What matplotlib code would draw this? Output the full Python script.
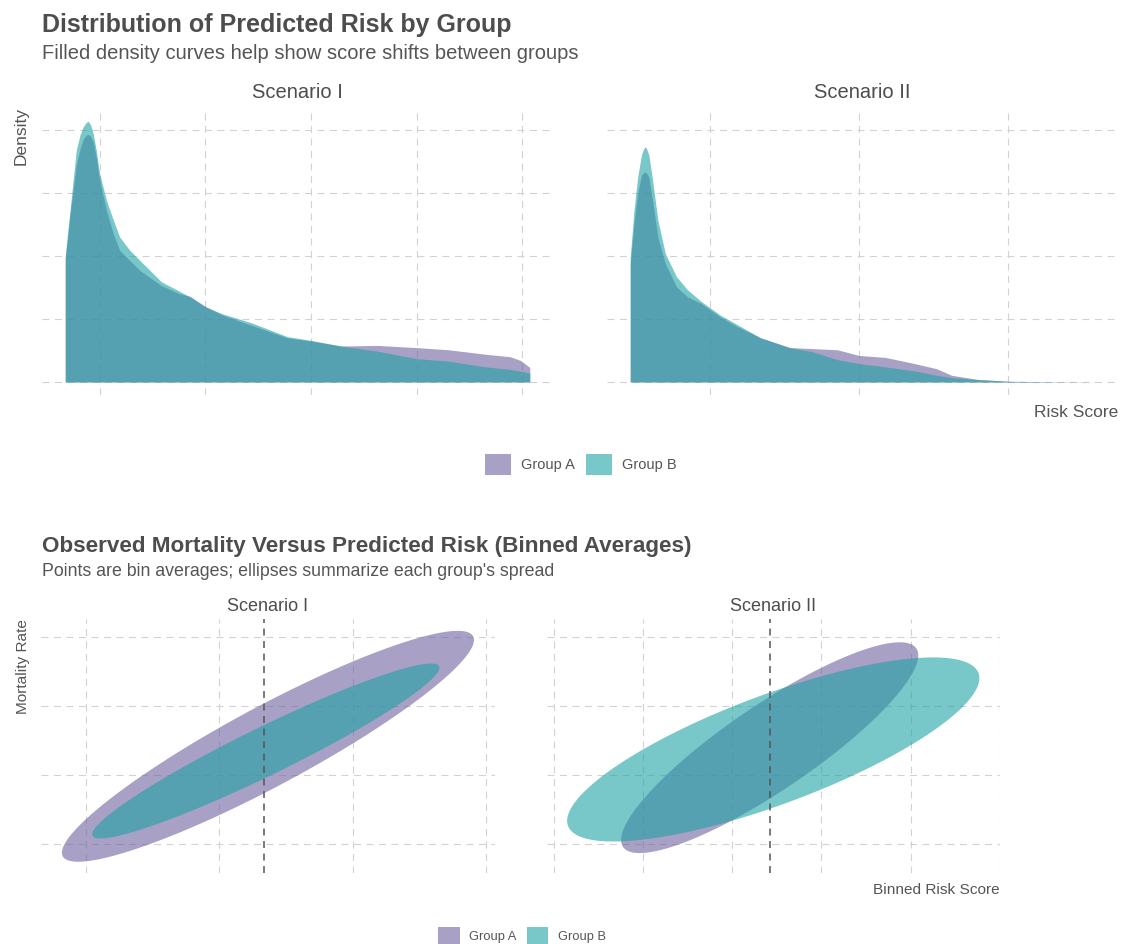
import numpy as np
import matplotlib
matplotlib.use("Agg")
import matplotlib.pyplot as plt
from matplotlib.patches import Patch

plt.rcParams['font.family'] = ['Liberation Sans', 'DejaVu Sans']
plt.rcParams['lines.scale_dashes'] = False

# data: density curves (top chart)
groups = ["Group A", "Group B"]
scenarios = ["Scenario I", "Scenario II"]

s1_x = [0.035, 0.044, 0.056, 0.063, 0.069, 0.074, 0.078, 0.083, 0.088, 0.094,
        0.100, 0.113, 0.126, 0.138, 0.157, 0.176, 0.217, 0.251, 0.271, 0.300,
        0.333, 0.387, 0.455, 0.500, 0.557, 0.625, 0.700, 0.761, 0.830, 0.877,
        0.897, 0.914]
s1_a = [1.95, 2.65, 3.45, 3.70, 3.85, 3.91, 3.93, 3.90, 3.81, 3.55,
        3.20, 2.72, 2.35, 2.09, 1.93, 1.77, 1.53, 1.40, 1.36, 1.20,
        1.06, 0.90, 0.70, 0.65, 0.57, 0.58, 0.545, 0.51, 0.44, 0.40,
        0.34, 0.23]
s1_b = [2.00, 2.72, 3.68, 3.92, 4.05, 4.11, 4.14, 4.08, 3.94, 3.66,
        3.31, 2.88, 2.57, 2.30, 2.09, 1.93, 1.59, 1.44, 1.35, 1.19,
        1.08, 0.94, 0.72, 0.66, 0.57, 0.49, 0.37, 0.33, 0.24, 0.20,
        0.17, 0.14]

s2_x = [0.093, 0.098, 0.103, 0.108, 0.111, 0.113, 0.115, 0.118, 0.123, 0.130,
        0.140, 0.155, 0.170, 0.189, 0.214, 0.238, 0.268, 0.307, 0.337, 0.371,
        0.400, 0.435, 0.475, 0.504, 0.524, 0.558, 0.602, 0.660, 0.716]
s2_a = [1.88, 2.51, 2.99, 3.28, 3.32, 3.33, 3.31, 3.25, 2.88, 2.30,
        1.88, 1.51, 1.35, 1.24, 1.03, 0.87, 0.70, 0.545, 0.53, 0.51,
        0.42, 0.39, 0.29, 0.21, 0.106, 0.042, 0.01, 0.004, 0.001]
s2_b = [1.98, 2.72, 3.25, 3.60, 3.70, 3.73, 3.70, 3.60, 3.20, 2.57,
        2.04, 1.67, 1.46, 1.27, 1.06, 0.90, 0.70, 0.545, 0.48, 0.355,
        0.29, 0.24, 0.175, 0.106, 0.07, 0.037, 0.01, 0.003, 0.0]

dens_grid_x = [[0.1, 0.3, 0.5, 0.7, 0.9], [0.2, 0.4, 0.6]]
dens_grid_y = [0, 1, 2, 3, 4]

# data: ellipse summaries (bottom chart): centre, half-extent in x / y, correlation
ell_cx = {"Scenario I": [0.2366, 0.2350], "Scenario II": [0.3420, 0.3460]}
ell_cy = {"Scenario I": [0.1210, 0.1176], "Scenario II": [0.1200, 0.1187]}
ell_hx = {"Scenario I": [0.1543, 0.1300], "Scenario II": [0.1665, 0.2310]}
ell_hy = {"Scenario I": [0.0838, 0.0635], "Scenario II": [0.0765, 0.0668]}
ell_rho = {"Scenario I": [0.921, 0.952], "Scenario II": [0.875, 0.775]}
ref_risk = [0.234, 0.342]

bin_grid_x = [[0.1, 0.2, 0.3, 0.4], [0.1, 0.2, 0.3, 0.4, 0.5, 0.6]]
bin_grid_y = [0.05, 0.10, 0.15, 0.20]

# colours
fills = ["#70619F", "#1EA3A5"]
alpha = 0.6
txt_dark = "#4D4D4D"
txt_mid = "#555555"
grid_col = "#D2D2D2"

W, H = 1123, 944
fig = plt.figure(figsize=(W / 100, H / 100), dpi=100)


def px_axes(left, top, right, bottom):
    return fig.add_axes([left / W, 1 - bottom / H, (right - left) / W, (bottom - top) / H])


def style(ax, gx, gy):
    for s in ax.spines.values():
        s.set_visible(False)
    ax.set_xticks(gx)
    ax.set_yticks(gy)
    ax.tick_params(length=0, labelbottom=False, labelleft=False)
    ax.grid(True, color=grid_col, lw=0.8, linestyle=(0, (5, 4)))
    ax.set_axisbelow(True)


def pad(lo, hi, f=0.05):
    d = (hi - lo) * f
    return lo - d, hi + d


# ---- top chart: densities
dens = [(s1_x, s1_a, s1_b), (s2_x, s2_a, s2_b)]
ytop = max(max(s1_a), max(s1_b), max(s2_a), max(s2_b))
top_boxes = [(42, 108, 553, 395), (607, 108, 1118, 395)]
for i, (xs, ya, yb) in enumerate(dens):
    ax = px_axes(*top_boxes[i])
    ax.fill_between(xs, 0, ya, color=fills[0], alpha=alpha, lw=0)
    ax.fill_between(xs, 0, yb, color=fills[1], alpha=alpha, lw=0)
    ax.set_xlim(*pad(min(xs), max(xs)))
    ax.set_ylim(*pad(0, ytop))
    style(ax, dens_grid_x[i], dens_grid_y)
    cx = (top_boxes[i][0] + top_boxes[i][2]) / 2
    fig.text(cx / W, 1 - 97.5 / H, scenarios[i], ha='center', va='baseline',
             fontsize=14.5, color=txt_dark)

fig.text(42 / W, 1 - 32 / H, "Distribution of Predicted Risk by Group", fontsize=18,
         fontweight='bold', color=txt_dark, va='baseline')
fig.text(42 / W, 1 - 59 / H, "Filled density curves help show score shifts between groups",
         fontsize=14.5, color=txt_mid, va='baseline')
fig.text(21 / W, 1 - 107 / H, "Density", rotation=90, ha='center', va='top',
         fontsize=12.5, color=txt_mid)
fig.text(1118 / W, 1 - 417 / H, "Risk Score", ha='right', va='baseline',
         fontsize=12.5, color=txt_mid)

handles = [Patch(facecolor=c, alpha=alpha, edgecolor='none') for c in fills]
fig.legend(handles, groups, loc='center', bbox_to_anchor=(580.8 / W, 1 - 464.3 / H),
           ncol=2, frameon=False, fontsize=10.5, handlelength=1.8, handleheight=1.8,
           handletextpad=0.7, columnspacing=0.7, labelcolor=txt_mid)

# ---- bottom chart: ellipses
t = np.linspace(0, 2 * np.pi, 241)
bot_boxes = [(41.3, 619.3, 494.6, 873.3), (546.5, 619.3, 1000, 873.3)]
all_ylo = min(min(np.subtract(ell_cy[s], ell_hy[s])) for s in scenarios)
all_yhi = max(max(np.add(ell_cy[s], ell_hy[s])) for s in scenarios)
for i, s in enumerate(scenarios):
    ax = px_axes(*bot_boxes[i])
    for g in range(2):
        cx, cy = ell_cx[s][g], ell_cy[s][g]
        hx, hy, r = ell_hx[s][g], ell_hy[s][g], ell_rho[s][g]
        ex = cx + hx * np.cos(t)
        ey = cy + hy * (r * np.cos(t) + np.sqrt(1 - r ** 2) * np.sin(t))
        ax.fill(ex, ey, color=fills[g], alpha=alpha, lw=0)
    ax.axvline(ref_risk[i], color="#555555", lw=1.1, linestyle=(0, (5, 4)))
    xlo = min(np.subtract(ell_cx[s], ell_hx[s]))
    xhi = max(np.add(ell_cx[s], ell_hx[s]))
    ax.set_xlim(*pad(xlo, xhi))
    ax.set_ylim(*pad(all_ylo, all_yhi))
    style(ax, bin_grid_x[i], bin_grid_y)
    bx = (bot_boxes[i][0] + bot_boxes[i][2]) / 2
    fig.text(bx / W, 1 - 610.7 / H, s, ha='center', va='baseline',
             fontsize=13, color=txt_dark)

fig.text(42 / W, 1 - 552 / H, "Observed Mortality Versus Predicted Risk (Binned Averages)",
         fontsize=16.2, fontweight='bold', color=txt_dark, va='baseline')
fig.text(42 / W, 1 - 576 / H, "Points are bin averages; ellipses summarize each group's spread",
         fontsize=12.8, color=txt_mid, va='baseline')
fig.text(23 / W, 1 - 619 / H, "Mortality Rate", rotation=90, ha='center', va='top',
         fontsize=11.1, color=txt_mid)
fig.text(1000 / W, 1 - 894 / H, "Binned Risk Score", ha='right', va='baseline',
         fontsize=11.1, color=txt_mid)

fig.legend(handles, groups, loc='center', bbox_to_anchor=(522 / W, 1 - 936 / H),
           ncol=2, frameon=False, fontsize=9.3, handlelength=1.65, handleheight=1.65,
           handletextpad=0.75, columnspacing=0.75, labelcolor=txt_mid)

fig.savefig("out.png", dpi=100, facecolor="white")
